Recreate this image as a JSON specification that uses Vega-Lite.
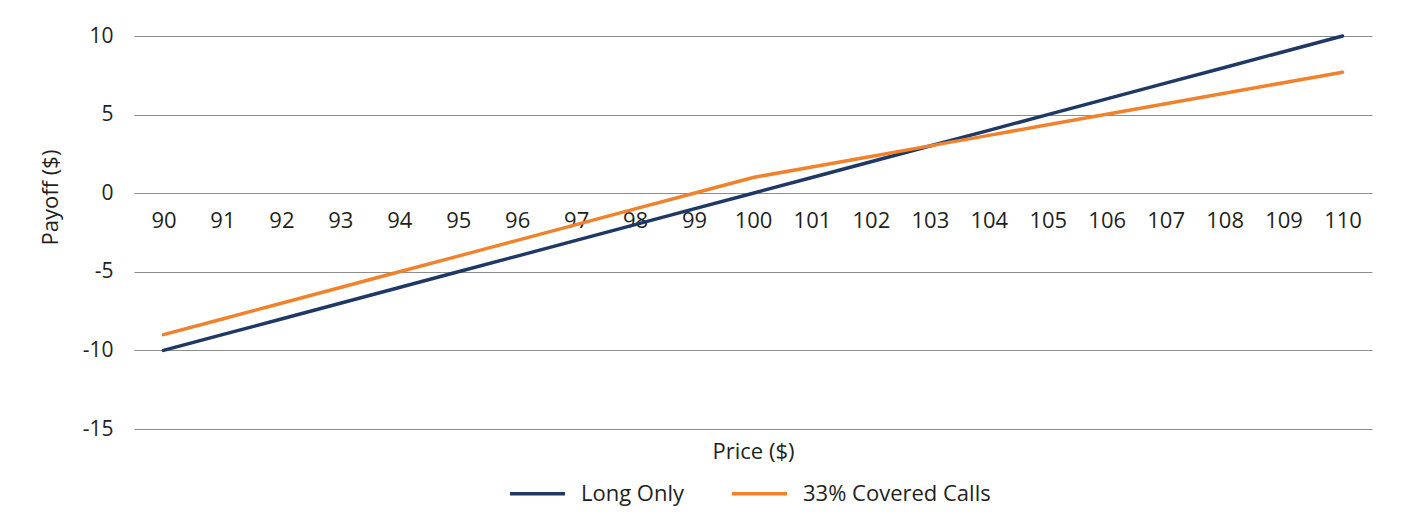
{
  "$schema": "https://vega.github.io/schema/vega-lite/v6.json",
  "autosize": {"type": "none"},
  "padding": {"left": 134, "top": 36, "right": 31, "bottom": 92},
  "width": 1238,
  "height": 393,
  "background": "white",
  "config": {
    "font": "Open Sans",
    "view": {"stroke": null},
    "axis": {"labelColor": "#231f20", "titleColor": "#231f20", "labelFont": "Open Sans", "titleFont": "Open Sans"}
  },
  "data": {
    "values": [
      {"price": 90, "series": "Long Only", "payoff": -10},
      {"price": 91, "series": "Long Only", "payoff": -9},
      {"price": 92, "series": "Long Only", "payoff": -8},
      {"price": 93, "series": "Long Only", "payoff": -7},
      {"price": 94, "series": "Long Only", "payoff": -6},
      {"price": 95, "series": "Long Only", "payoff": -5},
      {"price": 96, "series": "Long Only", "payoff": -4},
      {"price": 97, "series": "Long Only", "payoff": -3},
      {"price": 98, "series": "Long Only", "payoff": -2},
      {"price": 99, "series": "Long Only", "payoff": -1},
      {"price": 100, "series": "Long Only", "payoff": 0},
      {"price": 101, "series": "Long Only", "payoff": 1},
      {"price": 102, "series": "Long Only", "payoff": 2},
      {"price": 103, "series": "Long Only", "payoff": 3},
      {"price": 104, "series": "Long Only", "payoff": 4},
      {"price": 105, "series": "Long Only", "payoff": 5},
      {"price": 106, "series": "Long Only", "payoff": 6},
      {"price": 107, "series": "Long Only", "payoff": 7},
      {"price": 108, "series": "Long Only", "payoff": 8},
      {"price": 109, "series": "Long Only", "payoff": 9},
      {"price": 110, "series": "Long Only", "payoff": 10},
      {"price": 90, "series": "33% Covered Calls", "payoff": -9},
      {"price": 91, "series": "33% Covered Calls", "payoff": -8},
      {"price": 92, "series": "33% Covered Calls", "payoff": -7},
      {"price": 93, "series": "33% Covered Calls", "payoff": -6},
      {"price": 94, "series": "33% Covered Calls", "payoff": -5},
      {"price": 95, "series": "33% Covered Calls", "payoff": -4},
      {"price": 96, "series": "33% Covered Calls", "payoff": -3},
      {"price": 97, "series": "33% Covered Calls", "payoff": -2},
      {"price": 98, "series": "33% Covered Calls", "payoff": -1},
      {"price": 99, "series": "33% Covered Calls", "payoff": 0},
      {"price": 100, "series": "33% Covered Calls", "payoff": 1},
      {"price": 101, "series": "33% Covered Calls", "payoff": 1.67},
      {"price": 102, "series": "33% Covered Calls", "payoff": 2.34},
      {"price": 103, "series": "33% Covered Calls", "payoff": 3.01},
      {"price": 104, "series": "33% Covered Calls", "payoff": 3.68},
      {"price": 105, "series": "33% Covered Calls", "payoff": 4.35},
      {"price": 106, "series": "33% Covered Calls", "payoff": 5.02},
      {"price": 107, "series": "33% Covered Calls", "payoff": 5.69},
      {"price": 108, "series": "33% Covered Calls", "payoff": 6.36},
      {"price": 109, "series": "33% Covered Calls", "payoff": 7.03},
      {"price": 110, "series": "33% Covered Calls", "payoff": 7.7}
    ]
  },
  "mark": {"type": "line", "strokeWidth": 3.5, "strokeCap": "round"},
  "encoding": {
    "x": {
      "field": "price",
      "type": "ordinal",
      "scale": {"type": "point", "padding": 0.5},
      "axis": {
        "title": "Price ($)",
        "titleFontSize": 22,
        "titleFontWeight": "normal",
        "titleBaseline": "middle",
        "titleY": 258,
        "labelAngle": 0,
        "labelFontSize": 22,
        "labelBaseline": "middle",
        "labelPadding": 27,
        "ticks": false,
        "domain": false,
        "grid": false,
        "offset": -236
      }
    },
    "y": {
      "field": "payoff",
      "type": "quantitative",
      "scale": {"domain": [-15, 10], "nice": false},
      "axis": {
        "title": "Payoff ($)",
        "titleFontSize": 22,
        "titleFontWeight": "normal",
        "titleX": -84,
        "titleY": 161,
        "titleAlign": "center",
        "titleBaseline": "middle",
        "values": [-15, -10, -5, 0, 5, 10],
        "labelExpr": "'' + datum.value",
        "labelFontSize": 21,
        "labelPadding": 21,
        "ticks": false,
        "domain": false,
        "grid": true,
        "gridColor": "#8c8c8c",
        "gridWidth": 1
      }
    },
    "color": {
      "field": "series",
      "type": "nominal",
      "sort": ["Long Only", "33% Covered Calls"],
      "scale": {"domain": ["Long Only", "33% Covered Calls"], "range": ["#203864", "#f0822d"]},
      "legend": {
        "title": null,
        "orient": "none",
        "direction": "horizontal",
        "legendX": 374,
        "legendY": 428,
        "symbolType": "stroke",
        "symbolSize": 3025,
        "symbolStrokeWidth": 3.5,
        "labelFontSize": 22,
        "labelColor": "#231f20",
        "labelOffset": 14,
        "labelLimit": 400,
        "columnPadding": 40,
        "labelFont": "Open Sans"
      }
    }
  }
}
